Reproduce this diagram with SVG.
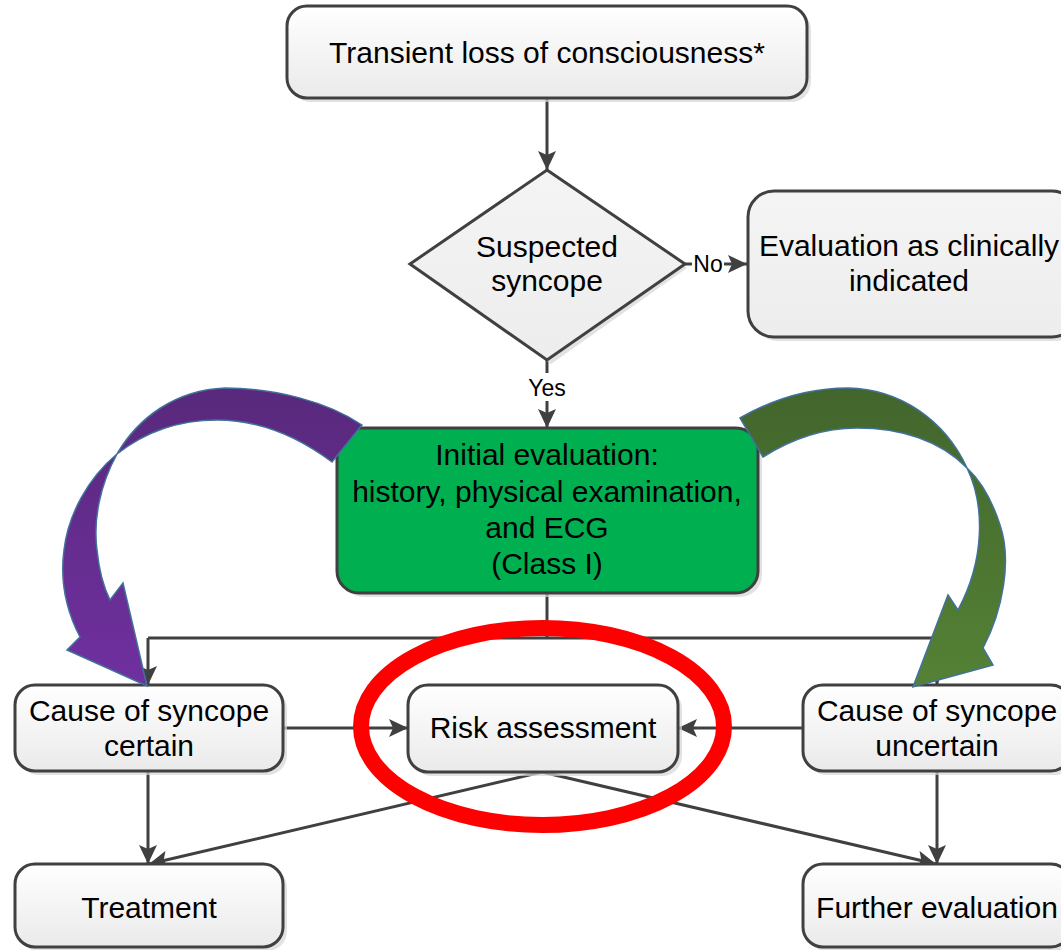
<svg xmlns="http://www.w3.org/2000/svg" width="1061" height="950" viewBox="0 0 1061 950">
<defs>
<linearGradient id="gBox" x1="0" y1="0" x2="0" y2="1">
<stop offset="0" stop-color="#FFFFFF"/><stop offset="1" stop-color="#EAEAEA"/>
</linearGradient>
<linearGradient id="gGray" x1="0" y1="0" x2="0" y2="1">
<stop offset="0" stop-color="#F4F4F4"/><stop offset="1" stop-color="#EDEDED"/>
</linearGradient>
<linearGradient id="gPurple" x1="0" y1="0" x2="0" y2="1">
<stop offset="0" stop-color="#58297C"/><stop offset="1" stop-color="#7030A0"/>
</linearGradient>
<linearGradient id="gGreen" x1="0" y1="0" x2="0" y2="1">
<stop offset="0" stop-color="#42652C"/><stop offset="1" stop-color="#548235"/>
</linearGradient>
<marker id="ah" markerUnits="userSpaceOnUse" markerWidth="20" markerHeight="18" refX="19" refY="9" orient="auto">
<path d="M0,0 L19,9 L0,18 L4,9 Z" fill="#404040"/>
</marker>
</defs>
<style>
.box{fill:url(#gBox);stroke:#404040;stroke-width:3}
.shadow{fill:#D6D6D6;opacity:0.7}
.t{font-family:"Liberation Sans",Arial,sans-serif;font-size:30px;fill:#000;text-anchor:middle}
.lbl{font-family:"Liberation Sans",Arial,sans-serif;font-size:23px;fill:#000;text-anchor:middle}
.c{stroke:#404040;stroke-width:3;fill:none}
.ca{stroke:#404040;stroke-width:3;fill:none;marker-end:url(#ah)}
.bend{stroke:#41719C;stroke-width:1.5}
</style>

<g id="connectors">
<line class="ca" x1="547" y1="99" x2="547" y2="170"/>
<line class="ca" x1="685" y1="264" x2="747" y2="264"/>
<line class="ca" x1="547" y1="360" x2="547" y2="428"/>
<line class="c" x1="547" y1="594" x2="547" y2="638"/>
<line class="c" x1="148" y1="638" x2="937" y2="638"/>
<path class="ca" d="M148,638 L148,685"/>
<path class="ca" d="M937,638 L937,685"/>
<line class="ca" x1="283" y1="728" x2="408" y2="728"/>
<line class="ca" x1="803" y1="728" x2="678" y2="728"/>
<line class="ca" x1="148" y1="771" x2="148" y2="864"/>
<line class="ca" x1="937" y1="771" x2="937" y2="864"/>
<line class="ca" x1="542" y1="772" x2="149" y2="864"/>
<line class="ca" x1="542" y1="772" x2="936" y2="864"/>
<rect x="692" y="252" width="32" height="26" fill="#FFFFFF"/>
<text class="lbl" x="708" y="272">No</text>
<rect x="526" y="373" width="42" height="28" fill="#FFFFFF"/>
<text class="lbl" x="547" y="396">Yes</text>
</g>

<g id="node-tloc">
<rect class="shadow" x="291" y="10" width="520" height="92" rx="20"/>
<rect class="box" x="287" y="6" width="520" height="92" rx="20"/>
<text class="t" x="547" y="63">Transient loss of consciousness*</text>
</g>

<g id="node-suspected">
<polygon class="shadow" points="551,174 687,268 551,364 414,268"/>
<polygon points="547,170 685,264 547,360 410,264" fill="url(#gGray)" stroke="#404040" stroke-width="3"/>
<text class="t" x="547" y="257">Suspected</text>
<text class="t" x="547" y="291">syncope</text>
</g>

<g id="node-eval-clin">
<rect class="shadow" x="752" y="195" width="330" height="146" rx="26"/>
<rect x="748" y="191" width="330" height="146" rx="26" fill="url(#gGray)" stroke="#404040" stroke-width="3"/>
<text class="t" x="909" y="256">Evaluation as clinically</text>
<text class="t" x="909" y="291">indicated</text>
</g>

<g id="node-initial">
<rect class="shadow" x="341" y="432" width="421" height="165" rx="22"/>
<rect x="337" y="428" width="421" height="165" rx="22" fill="#00B050" stroke="#404040" stroke-width="3"/>
<text class="t" x="547" y="465">Initial evaluation:</text>
<text class="t" x="547" y="502">history, physical examination,</text>
<text class="t" x="547" y="538">and ECG</text>
<text class="t" x="547" y="574">(Class I)</text>
</g>

<g id="node-certain">
<rect class="shadow" x="19" y="689" width="268" height="86" rx="20"/>
<rect class="box" x="15" y="685" width="268" height="86" rx="20"/>
<text class="t" x="149" y="721">Cause of syncope</text>
<text class="t" x="149" y="756">certain</text>
</g>

<g id="node-risk">
<rect class="shadow" x="412" y="689" width="270" height="87" rx="20"/>
<rect class="box" x="408" y="685" width="270" height="87" rx="20"/>
<text class="t" x="543" y="738">Risk assessment</text>
</g>

<g id="node-uncertain">
<rect class="shadow" x="807" y="689" width="268" height="86" rx="20"/>
<rect class="box" x="803" y="685" width="268" height="86" rx="20"/>
<text class="t" x="937" y="721">Cause of syncope</text>
<text class="t" x="937" y="756">uncertain</text>
</g>

<g id="node-treatment">
<rect class="shadow" x="19" y="868" width="268" height="83" rx="20"/>
<rect class="box" x="15" y="864" width="268" height="83" rx="20"/>
<text class="t" x="149" y="918">Treatment</text>
</g>

<g id="node-further">
<rect class="shadow" x="807" y="868" width="268" height="83" rx="20"/>
<rect class="box" x="803" y="864" width="268" height="83" rx="20"/>
<text class="t" x="937" y="918">Further evaluation</text>
</g>

<g id="arrow-purple">
<path class="bend" fill="url(#gPurple)" d="M362,425 C328,402 275,388 225,388 C175,390 138,418 117,454 C100,485 93,520 97,550 C99,570 104,588 110,600 L123,583 L147,686 L67,650 L80,637 C66,610 60,580 64,550 C68,515 88,478 117,454 C145,432 180,420 217,420 C262,420 300,438 332,462 Z"/>
</g>

<g id="arrow-green">
<path class="bend" fill="url(#gGreen)" d="M740,418 C775,398 810,388 848,388 C900,389 945,420 967,468 C985,505 985,560 958,610 L948,595 L913,687 L993,665 L983,648 C1003,610 1012,560 1000,525 C992,500 980,480 967,468 C940,440 900,428 857,428 C820,428 790,440 763,457 Z"/>
</g>

<g id="highlight">
<ellipse cx="542.5" cy="726.5" rx="181.5" ry="98.5" fill="none" stroke="#FF0000" stroke-width="16"/>
</g>
</svg>
